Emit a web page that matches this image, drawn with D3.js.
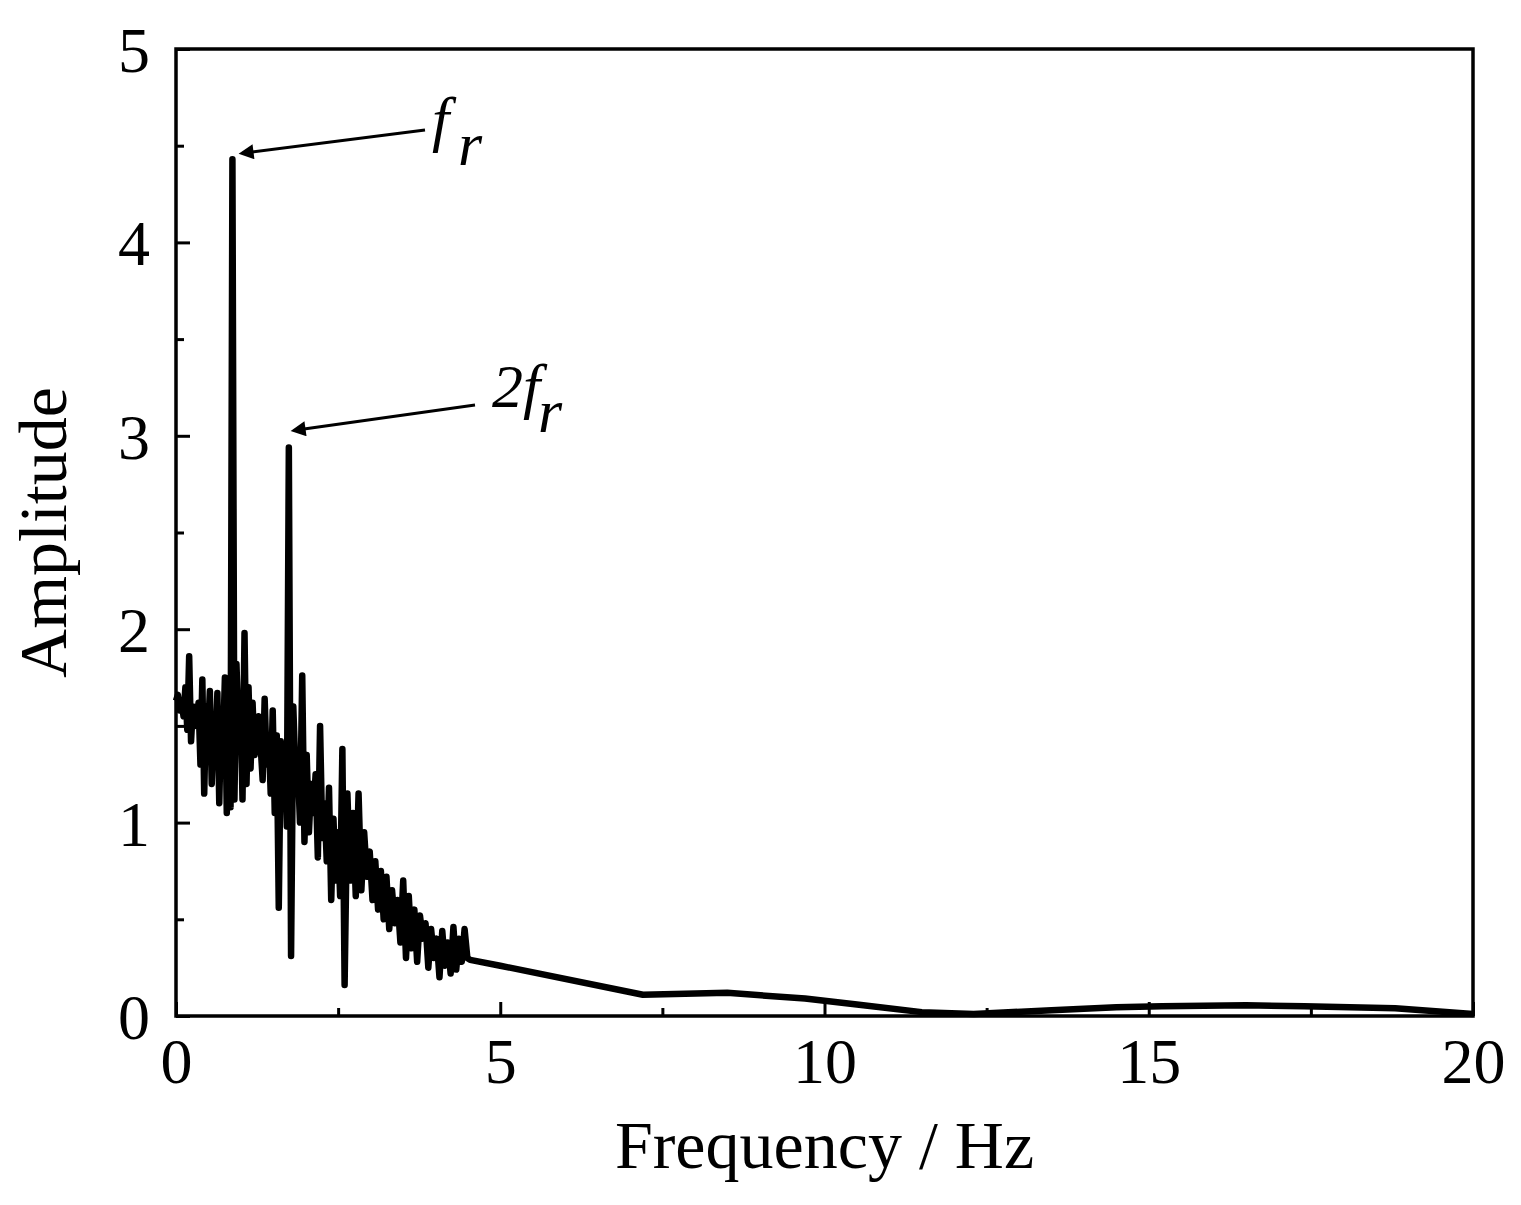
<!DOCTYPE html>
<html><head><meta charset="utf-8">
<script src="https://cdn.jsdelivr.net/npm/d3@7"></script>
<style>body{margin:0;background:#fff}</style></head>
<body><svg id="c" width="1521" height="1205"></svg>
<script>
const noisyAmp = [1.63,1.66,1.58,1.62,1.55,1.70,1.48,1.86,1.42,1.60,1.50,1.55,1.62,1.30,1.74,1.15,1.60,1.45,1.68,1.20,1.50,1.38,1.67,1.10,1.55,1.40,1.75,1.05,1.72,1.08,4.43,1.12,1.82,1.50,1.65,1.12,1.98,1.20,1.70,1.28,1.62,1.35,1.48,1.55,1.40,1.22,1.64,1.30,1.45,1.15,1.58,1.05,1.45,0.56,1.42,1.20,1.38,0.98,2.94,0.31,1.60,1.25,1.30,1.00,1.76,0.90,1.35,0.95,1.20,1.05,1.25,0.82,1.50,0.92,1.10,0.80,1.18,0.60,1.02,0.70,0.95,0.62,1.38,0.16,1.15,0.70,1.05,0.62,1.15,0.65,0.95,0.72,0.85,0.60,0.80,0.55,0.75,0.50,0.72,0.45,0.65,0.48,0.60,0.38,0.70,0.30,0.62,0.35,0.55,0.28,0.52,0.40,0.48,0.25,0.45,0.30,0.40,0.20,0.44,0.26,0.38,0.22,0.46,0.24,0.40,0.28,0.45,0.30,0.29];
const anchorIndex = [0, 30, 58, 83, 126];
const anchorFreq  = [0, 0.87, 1.74, 2.6, 4.45];
const tailFreq = [5, 7.2, 8.5, 9.7, 10.5, 11.5, 12.3, 13.5, 14.5, 15.2, 16.5, 17.4, 18.8, 20];
const tailAmp  = [0.26, 0.11, 0.12, 0.09, 0.06, 0.02, 0.01, 0.03, 0.045, 0.05, 0.055, 0.05, 0.04, 0.01];
const xTicks = [0,5,10,15,20];
const yTicks = [0,1,2,3,4,5];

const idx2f = d3.scaleLinear().domain(anchorIndex).range(anchorFreq);
const data = noisyAmp.map((a,i)=>({f: idx2f(i), a}));
tailFreq.forEach((f,i)=>data.push({f, a: tailAmp[i]}));

const svg = d3.select("#c");
const L=176,R=1473,T=49,B=1016;
const x = d3.scaleLinear().domain([0,20]).range([L,R]);
const y = d3.scaleLinear().domain([0,5]).range([B,T]);
const font = "'Liberation Serif','Times New Roman',serif";

svg.append("path").datum(data)
  .attr("d", d3.line().x(d=>x(d.f)).y(d=>y(d.a)))
  .attr("fill","none").attr("stroke","#000").attr("stroke-width",6.5).attr("stroke-linejoin","round");

svg.append("rect").attr("x",L).attr("y",T).attr("width",R-L).attr("height",B-T)
  .attr("fill","none").attr("stroke","#000").attr("stroke-width",3.5);

const gx = svg.append("g").attr("transform",`translate(0,${B})`)
  .call(d3.axisBottom(x).tickValues(xTicks).tickSize(-14).tickPadding(22).tickFormat(d3.format("d")).tickSizeOuter(0));
gx.append("g").call(d3.axisBottom(x).tickValues(d3.range(2.5,20,5)).tickSize(-8).tickFormat("").tickSizeOuter(0));
const gy = svg.append("g").attr("transform",`translate(${L},0)`)
  .call(d3.axisLeft(y).tickValues(yTicks).tickSize(-14).tickPadding(26).tickFormat(d3.format("d")).tickSizeOuter(0));
gy.append("g").call(d3.axisLeft(y).tickValues([0.5,1.5,2.5,3.5,4.5]).tickSize(-8).tickFormat("").tickSizeOuter(0));
svg.selectAll(".domain").remove();
svg.selectAll(".tick line").attr("stroke","#000").attr("stroke-width",3);
svg.selectAll(".tick text").attr("font-family",font).attr("font-size",64).attr("fill","#000");
gy.selectAll(".tick text").attr("dy","0.35em");

svg.append("text").attr("x",x(10)).attr("y",1168).attr("text-anchor","middle")
  .attr("font-family",font).attr("font-size",68).text("Frequency / Hz");
svg.append("text").attr("transform",`translate(66,${(T+B)/2}) rotate(-90)`).attr("text-anchor","middle")
  .attr("font-family",font).attr("font-size",68).text("Amplitude");

svg.append("defs").append("marker").attr("id","ah").attr("viewBox","0 0 10 10").attr("refX",1).attr("refY",5)
  .attr("markerWidth",9).attr("markerHeight",5).attr("orient","auto-start-reverse")
  .append("path").attr("d","M0,0 L10,5 L0,10 z").attr("fill","#000");
function ann(x1,y1,x2,y2){svg.append("line").attr("x1",x1).attr("y1",y1).attr("x2",x2).attr("y2",y2)
  .attr("stroke","#000").attr("stroke-width",3).attr("marker-start","url(#ah)");}
ann(252,152,425,130);
ann(304,429,475,405);
const t1 = svg.append("text").attr("font-family",font).attr("font-style","italic").attr("font-size",62);
t1.append("tspan").attr("x",432).attr("y",140).text("f");
t1.append("tspan").attr("x",458).attr("y",165).text("r");
const t2 = svg.append("text").attr("font-family",font).attr("font-style","italic").attr("font-size",62);
t2.append("tspan").attr("x",492).attr("y",407).text("2f");
t2.append("tspan").attr("x",538).attr("y",432).text("r");
</script></body></html>
